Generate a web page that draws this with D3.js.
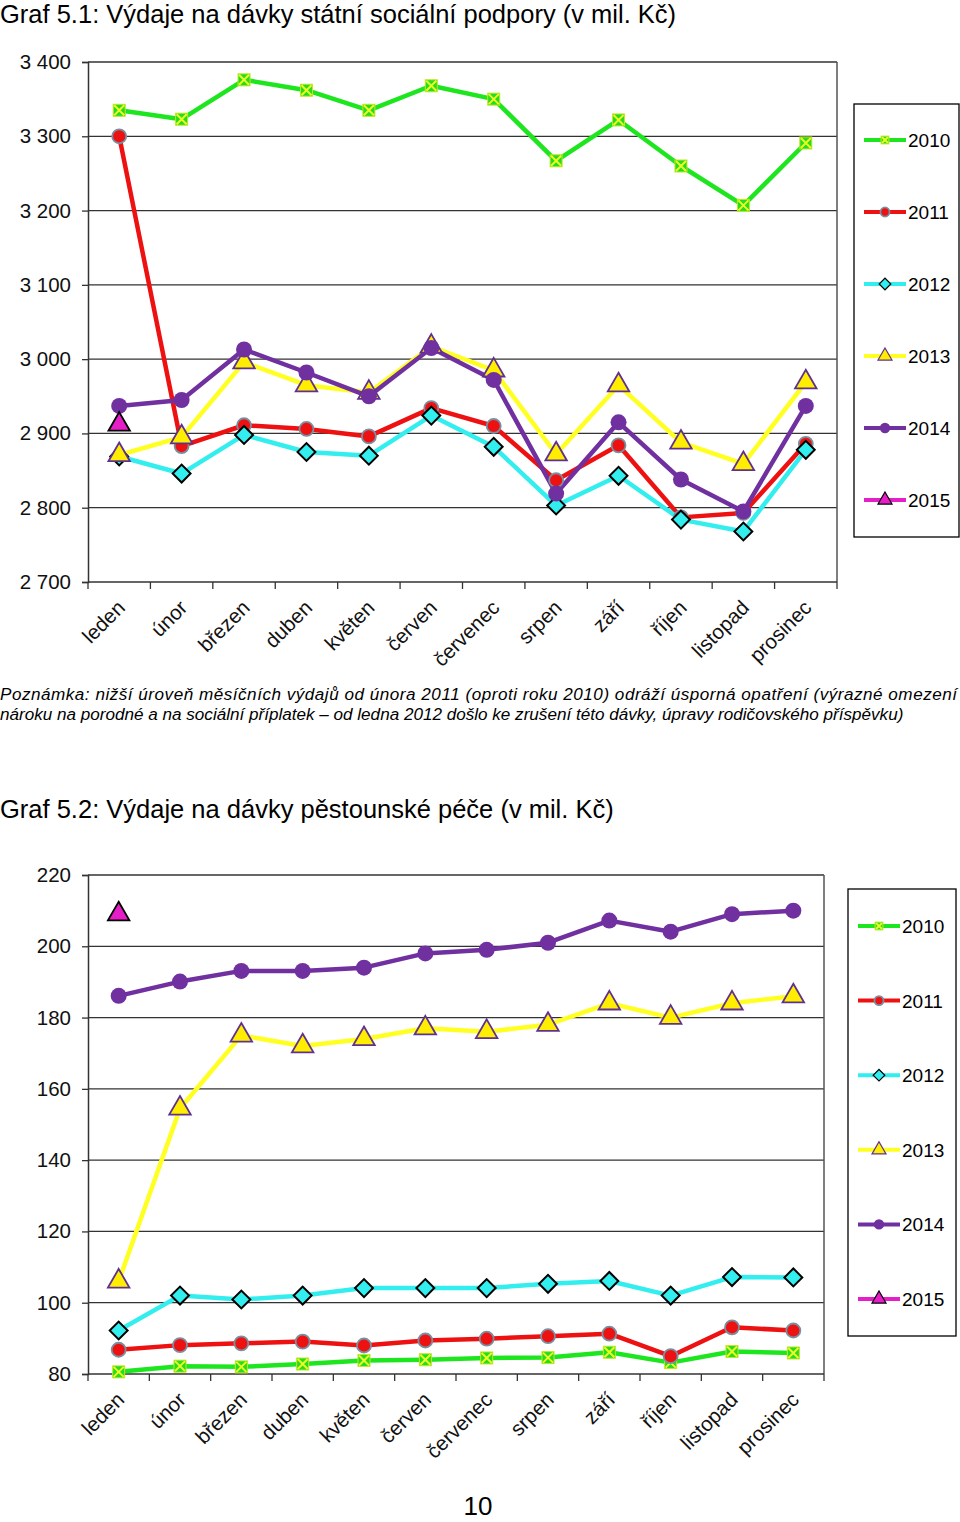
<!DOCTYPE html>
<html><head><meta charset="utf-8">
<script src="https://cdn.jsdelivr.net/npm/d3@7"></script>
<style>
body{margin:0;background:#fff;}
svg{display:block;font-family:"Liberation Sans",Arial,sans-serif;}
</style></head>
<body>
<svg id="c" width="960" height="1522"></svg>
<script>
const months = ["leden","únor","březen","duben","květen","červen","červenec","srpen","září","říjen","listopad","prosinec"];
const years = ["2010","2011","2012","2013","2014","2015"];

// Graf 5.1 (mil. Kč)
const a2010 = [3335,3323,3376,3362,3335,3368,3350,3267,3322,3260,3207,3291];
const a2011 = [3300,2883,2911,2906,2896,2934,2910,2837,2884,2787,2793,2886];
const a2012 = [2869,2846,2898,2875,2870,2924,2882,2803,2843,2784,2768,2878];
const a2013 = [2871,2895,2996,2965,2955,3017,2985,2872,2965,2888,2859,2969];
const a2014 = [2937,2945,3013,2982,2950,3015,2972,2819,2915,2838,2795,2937];
const a2015 = [2912];
const aTicks = [2700,2800,2900,3000,3100,3200,3300,3400];

// Graf 5.2 (mil. Kč)
const b2010 = [80.6,82.2,82.0,82.8,83.8,84.0,84.5,84.6,86.1,83.2,86.3,85.9];
const b2011 = [86.8,88.1,88.6,89.1,88.0,89.4,89.9,90.6,91.3,85.0,93.1,92.2];
const b2012 = [92.2,102.0,100.9,102.0,104.1,104.1,104.1,105.3,106.1,102.0,107.2,107.1];
const b2013 = [106.0,154.5,175.0,172.0,174.0,177.0,176.0,178.0,184.0,180.0,184.0,186.0];
const b2014 = [186.1,190.1,193.1,193.1,194.0,198.0,199.0,201.0,207.2,204.1,209.0,210.0];
const b2015 = [209.0];
const bTicks = [80,100,120,140,160,180,200,220];

const titleA = "Graf 5.1: Výdaje na dávky státní sociální podpory (v mil. Kč)";
const titleB = "Graf 5.2: Výdaje na dávky pěstounské péče (v mil. Kč)";
const note1 = "Poznámka: nižší úroveň měsíčních výdajů od února 2011 (oproti roku 2010) odráží úsporná opatření (výrazné omezení";
const note2 = "nároku na porodné a na sociální příplatek – od ledna 2012 došlo ke zrušení této dávky, úpravy rodičovského příspěvku)";
const pageNo = "10";

const styles = [
  {color:"#1ee61e", sym:"square"},
  {color:"#ee1111", sym:"circleR"},
  {color:"#33eeee", sym:"diamond"},
  {color:"#ffff22", sym:"triangleY"},
  {color:"#7030a0", sym:"circleP"},
  {color:"#e61ec8", sym:"triangleM"}
];

const svg = d3.select("#c");

svg.append("text").attr("x",0).attr("y",23).attr("font-size",25.5).attr("fill","#000").text(titleA);
svg.append("text").attr("x",0).attr("y",818).attr("font-size",25.5).attr("fill","#000").text(titleB);
svg.append("text").attr("x",0).attr("y",700).attr("font-size",17.1).attr("font-style","italic")
  .attr("textLength",957).attr("lengthAdjust","spacing").text(note1);
svg.append("text").attr("x",0).attr("y",720).attr("font-size",17.1).attr("font-style","italic").text(note2);
svg.append("text").attr("x",478).attr("y",1515).attr("text-anchor","middle").attr("font-size",26).text(pageNo);

function drawMarker(g, sym, x, y, big){
  const s = big ? 1 : 0.65;
  if(sym==="square"){
    const h=6*s;
    g.append("rect").attr("x",x-h).attr("y",y-h).attr("width",2*h).attr("height",2*h).attr("fill","#22dd22").attr("stroke","#c8e61e").attr("stroke-width",1);
    g.append("path").attr("d",`M${x-h+1},${y-h+1}L${x+h-1},${y+h-1}M${x+h-1},${y-h+1}L${x-h+1},${y+h-1}`).attr("stroke","#eeff22").attr("stroke-width",2);
  } else if(sym==="circleR"){
    g.append("circle").attr("cx",x).attr("cy",y).attr("r",7*s).attr("fill","#ee1111").attr("stroke","#7890a0").attr("stroke-width",1.8);
  } else if(sym==="diamond"){
    g.append("path").attr("d",d3.symbol(d3.symbolSquare, 160*s*s)()).attr("transform",`translate(${x},${y}) rotate(45)`).attr("fill","#33eeee").attr("stroke","#000").attr("stroke-width",big?2:1.2);
  } else if(sym==="triangleY"){
    g.append("path").attr("d",d3.symbol(d3.symbolTriangle, 200*s*s)()).attr("transform",`translate(${x},${y})`).attr("fill","#ffee00").attr("stroke","#603090").attr("stroke-width",big?1.8:1.2);
  } else if(sym==="circleP"){
    g.append("circle").attr("cx",x).attr("cy",y).attr("r",8*s).attr("fill","#7030a0");
  } else if(sym==="triangleM"){
    g.append("path").attr("d",d3.symbol(d3.symbolTriangle, 200*s*s)()).attr("transform",`translate(${x},${y})`).attr("fill","#e61ec8").attr("stroke","#000").attr("stroke-width",big?1.8:1.2);
  }
}

function chart(cfg){
  const {left,right,top,bottom,domain,ticks,series,fmt,legend} = cfg;
  const x = d3.scaleBand().domain(months).range([left,right]);
  const y = d3.scaleLinear().domain(domain).range([bottom,top]);
  const g = svg.append("g");
  g.selectAll(".grid").data(ticks.slice(1)).join("line")
    .attr("x1",left).attr("x2",right).attr("y1",d=>y(d)).attr("y2",d=>y(d))
    .attr("stroke","#333").attr("stroke-width",1.3);
  g.append("line").attr("x1",right).attr("x2",right).attr("y1",top).attr("y2",bottom).attr("stroke","#555").attr("stroke-width",1.5);
  const ya = d3.axisLeft(y).tickValues(ticks).tickSize(6).tickFormat(fmt);
  const yg = g.append("g").attr("transform",`translate(${left},0)`).call(ya);
  yg.select(".domain").attr("stroke","#333").attr("stroke-width",1.5);
  yg.selectAll(".tick line").attr("stroke","#333").attr("stroke-width",1.3);
  yg.selectAll(".tick text").attr("font-size",20.5).attr("fill","#111").attr("font-family","Liberation Sans, Arial, sans-serif").attr("x",-17);
  const xa = d3.axisBottom(x).tickSize(0).tickFormat("");
  const xg = g.append("g").attr("transform",`translate(0,${bottom})`).call(xa);
  xg.select(".domain").attr("stroke","#333").attr("stroke-width",1.5).attr("d",`M${left},0H${right}`);
  const bounds = months.map(m=>x(m)).concat([right]);
  g.selectAll(".xt").data(bounds).join("line").attr("x1",d=>d).attr("x2",d=>d).attr("y1",bottom).attr("y2",bottom+7).attr("stroke","#333").attr("stroke-width",1.3);
  g.selectAll(".xl").data(months).join("text")
    .attr("transform",d=>`translate(${x(d)+x.bandwidth()/2+7},${bottom+27}) rotate(-45)`)
    .attr("text-anchor","end").attr("font-size",20.5).attr("fill","#111").text(d=>d);
  const line = d3.line().x((d,i)=>x(months[i])+x.bandwidth()/2).y(d=>y(d));
  series.forEach((s,k)=>{
    if(s.length>1) g.append("path").attr("d",line(s)).attr("fill","none").attr("stroke",styles[k].color).attr("stroke-width",4.5).attr("stroke-linejoin","round");
  });
  series.forEach((s,k)=>{
    s.forEach((v,i)=>drawMarker(g,styles[k].sym,x(months[i])+x.bandwidth()/2,y(v),true));
  });
  const L = legend;
  g.append("rect").attr("x",L.x).attr("y",L.y).attr("width",L.w).attr("height",L.h).attr("fill","#fff").attr("stroke","#000").attr("stroke-width",1.3);
  years.forEach((yr,k)=>{
    const ly = L.first + k*L.step;
    g.append("line").attr("x1",L.x+10).attr("x2",L.x+52).attr("y1",ly).attr("y2",ly).attr("stroke",styles[k].color).attr("stroke-width",4);
    drawMarker(g,styles[k].sym,L.x+31,ly,false);
    g.append("text").attr("x",L.x+54).attr("y",ly+7).attr("font-size",19).attr("fill","#000").text(yr);
  });
}

const spaceFmt = d => d3.format(",")(d).replace(",", " ");

chart({left:88,right:837,top:62,bottom:582,domain:[2700,3400],ticks:aTicks,
  series:[a2010,a2011,a2012,a2013,a2014,a2015],fmt:spaceFmt,
  legend:{x:854,y:104,w:105,h:433,first:140,step:72}});

chart({left:88,right:824,top:875,bottom:1374,domain:[80,220],ticks:bTicks,
  series:[b2010,b2011,b2012,b2013,b2014,b2015],fmt:d=>d,
  legend:{x:848,y:889,w:108,h:447,first:926,step:74.6}});
</script>
</body></html>
